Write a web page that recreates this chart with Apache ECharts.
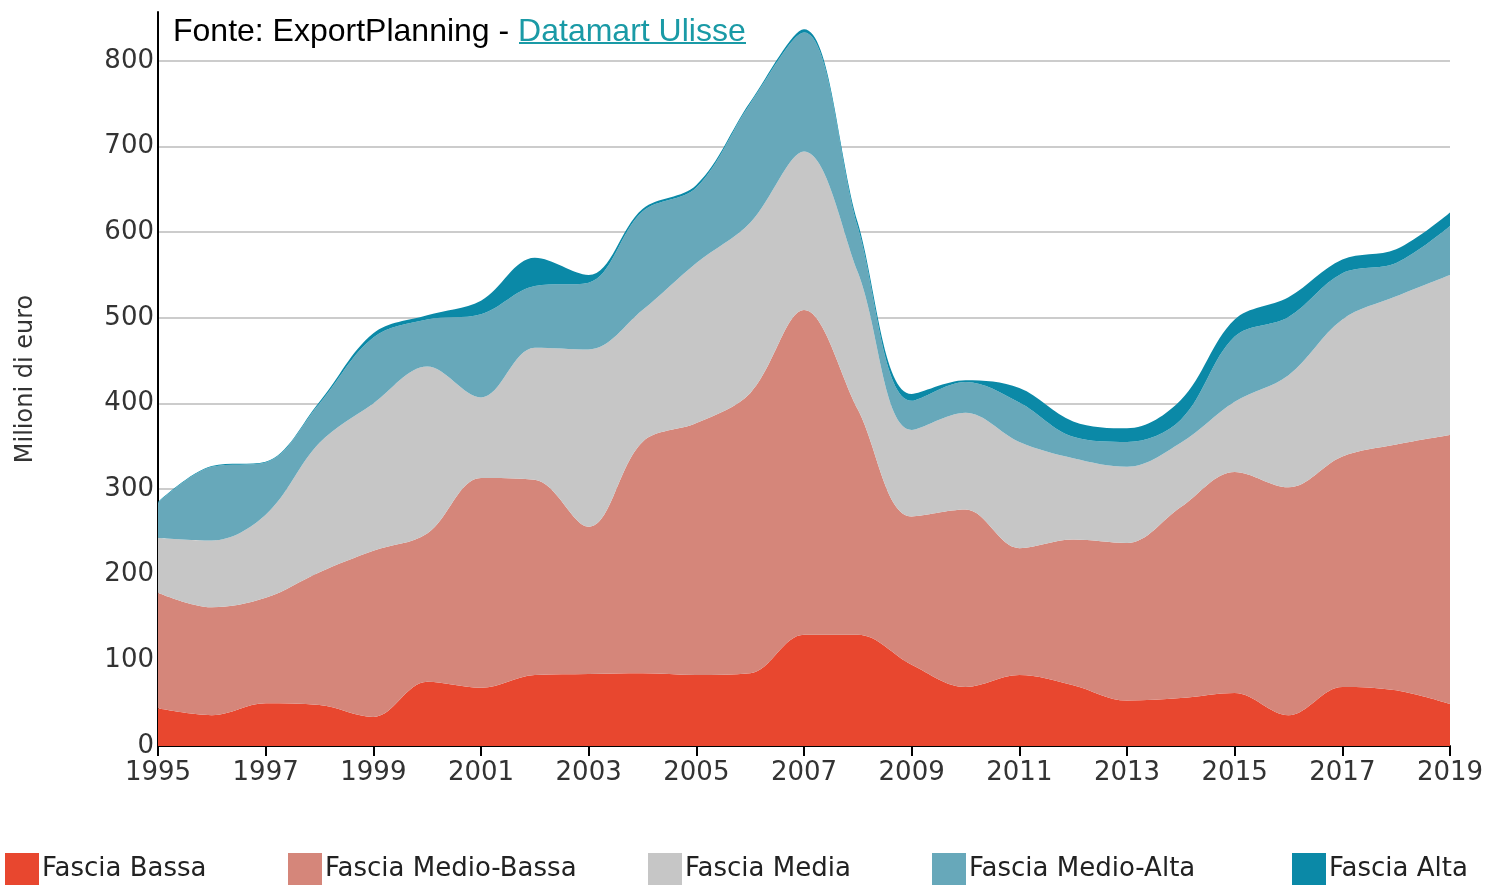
<!DOCTYPE html>
<html>
<head>
<meta charset="utf-8">
<title>Fasce di prezzo</title>
<script src="https://cdn.jsdelivr.net/npm/echarts@6/dist/echarts.min.js"></script>
<style>
  html, body { margin: 0; padding: 0; background: #fff; }
  #main { width: 1488px; height: 885px; }
</style>
</head>
<body>
<div id="main"></div>
<script>
var years = ['1995', '1996', '1997', '1998', '1999', '2000', '2001', '2002', '2003', '2004', '2005', '2006',
  '2007', '2008', '2009', '2010', '2011', '2012', '2013', '2014', '2015', '2016', '2017', '2018', '2019'];

var fasciaBassa = [44, 36, 50, 48, 34, 75, 68, 83, 84, 85, 83, 85, 130, 130, 95, 69, 83, 71, 53, 56, 62, 36, 69, 65, 49];
var fasciaMedioBassa = [135, 126, 123, 155, 194, 173, 245, 228, 172, 270, 294, 327, 379, 263, 173, 207, 148, 170, 184, 223, 258, 266, 269, 287, 314];
var fasciaMedia = [64, 78, 97, 151, 172, 195, 94, 154, 207, 154, 187, 199, 185, 160, 101, 113, 124, 95, 89, 75, 82, 131, 160, 173, 187];
var fasciaMedioAlta = [41, 86, 61, 46, 77, 55, 97, 72, 78, 115, 88, 139, 139, 53, 34, 36, 46, 25, 29, 27, 76, 68, 54, 39, 57];
var fasciaAlta = [1, 1, 1, 2, 5, 5, 16, 33, 9, 3, 3, 2, 4, 5, 8, 2, 17, 18, 16, 23, 20, 23, 16, 16, 16];

var yTicks = [0, 100, 200, 300, 400, 500, 600, 700, 800];

var chart = echarts.init(document.getElementById('main'));

function serie(name, data, color) {
  return {
    name: name,
    type: 'line',
    stack: 'tot',
    smooth: 0.35,
    showSymbol: false,
    symbol: 'none',
    lineStyle: { width: 0 },
    areaStyle: { color: color, opacity: 1 },
    itemStyle: { color: color },
    data: data
  };
}

var font = 'DejaVu Sans';
var legendItems = [
  { name: 'Fascia Bassa', left: 5 },
  { name: 'Fascia Medio-Bassa', left: 288 },
  { name: 'Fascia Media', left: 648 },
  { name: 'Fascia Medio-Alta', left: 932 },
  { name: 'Fascia Alta', left: 1292 }
];

chart.setOption({
  animation: false,
  color: ['#e8472f', '#d5867a', '#c6c6c6', '#67a8ba', '#0b89a7'],
  title: {
    left: 168,
    top: 11,
    text: '{a|Fonte: ExportPlanning - }{b|Datamart Ulisse}',
    textStyle: {
      rich: {
        a: { fontFamily: 'Liberation Sans', fontSize: 32, fontWeight: 'normal', color: '#000' },
        b: { fontFamily: 'Liberation Sans', fontSize: 32, fontWeight: 'normal', color: '#1a9aa6' }
      }
    }
  },
  graphic: [
    { type: 'rect', left: 519, top: 42, shape: { width: 227, height: 2 }, style: { fill: '#1a9aa6' } }
  ],
  legend: legendItems.map(function (it) {
    return {
      data: [it.name],
      left: it.left,
      top: 853,
      padding: 0,
      itemWidth: 34,
      itemHeight: 32,
      itemGap: 4,
      icon: 'rect',
      textStyle: { fontFamily: font, fontSize: 26, color: '#222', padding: [4, 0, 0, -2] }
    };
  }),
  grid: { left: 158, right: 38, top: 12, bottom: 139 },
  xAxis: {
    type: 'category',
    boundaryGap: false,
    data: years,
    axisLine: { lineStyle: { color: '#000', width: 2 } },
    axisTick: { interval: 1, length: 10, lineStyle: { color: '#000', width: 2 } },
    axisLabel: { interval: 1, fontFamily: font, fontSize: 26, color: '#333', margin: 14 }
  },
  yAxis: {
    type: 'value',
    min: yTicks[0],
    max: 857,
    interval: 100,
    name: 'Milioni di euro',
    nameLocation: 'middle',
    nameGap: 120,
    nameTextStyle: { fontFamily: font, fontSize: 24, color: '#333' },
    axisLine: { show: true, lineStyle: { color: '#000', width: 2 } },
    axisTick: { show: false },
    axisLabel: {
      fontFamily: font, fontSize: 26, color: '#333', margin: 4, showMaxLabel: false,
      formatter: function (v) { return yTicks.indexOf(v) >= 0 ? String(v) : ''; }
    },
    splitLine: { showMaxLine: false, lineStyle: { color: '#bbb', width: 1.5 } }
  },
  series: [
    serie('Fascia Bassa', fasciaBassa, '#e8472f'),
    serie('Fascia Medio-Bassa', fasciaMedioBassa, '#d5867a'),
    serie('Fascia Media', fasciaMedia, '#c6c6c6'),
    serie('Fascia Medio-Alta', fasciaMedioAlta, '#67a8ba'),
    serie('Fascia Alta', fasciaAlta, '#0b89a7')
  ]
});
</script>
</body>
</html>
